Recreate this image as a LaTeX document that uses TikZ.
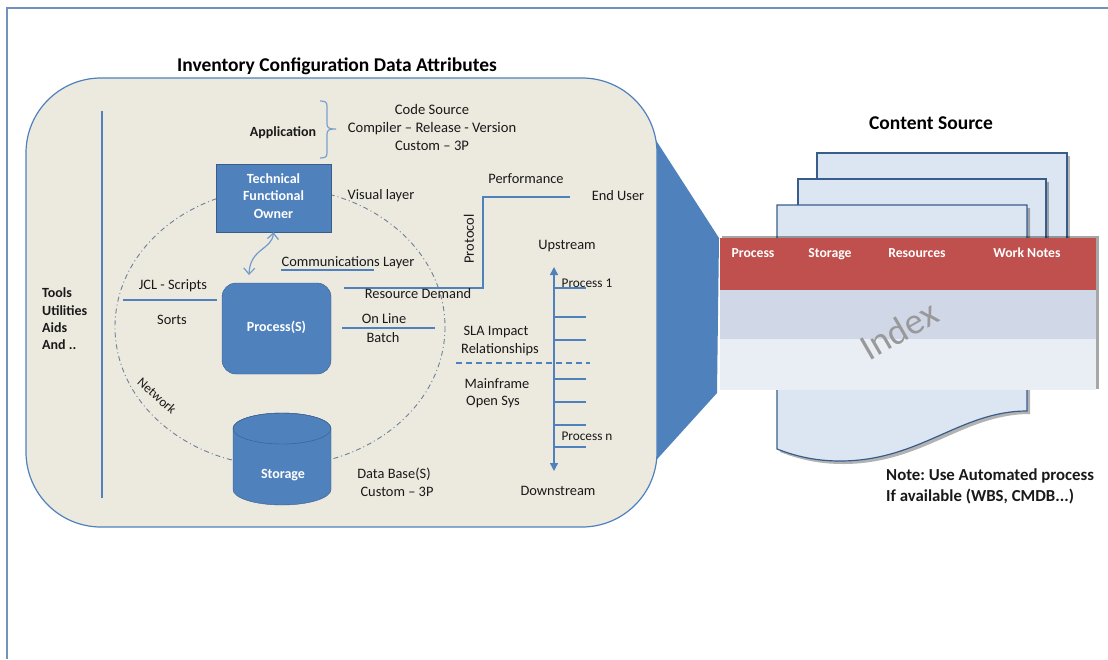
\documentclass[tikz,border=0pt]{standalone}
\usepackage{fontspec}
\setmainfont{Carlito}
\usetikzlibrary{shadows,arrows.meta}
\definecolor{panelfill}{HTML}{ECE9DF}
\definecolor{blueline}{HTML}{4F81BD}
\definecolor{darkline}{HTML}{385D8A}
\definecolor{pagefill}{HTML}{DCE6F2}
\definecolor{redhead}{HTML}{C0504D}
\definecolor{rowone}{HTML}{D0D8E8}
\definecolor{rowtwo}{HTML}{E9EDF4}
\definecolor{framecol}{HTML}{6F93BD}
\definecolor{ringcol}{HTML}{6E8098}
\tikzset{
    txt/.style={font=\fontsize{14.4}{17}\selectfont, text=black!90, inner sep=0pt, yshift=-1pt},
    boldtxt/.style={txt, font=\fontsize{14}{17}\selectfont\bfseries},
    head/.style={inner sep=0pt, text=black, font=\fontsize{19.5}{22}\selectfont\bfseries, yshift=-1pt},
    bluebox/.style={draw=darkline, fill=blueline, text=white, align=center, inner sep=0pt,
        font=\fontsize{14}{17.5}\selectfont\bfseries},
    headcell/.style={inner sep=0pt, anchor=base, text=white, font=\fontsize{13.7}{15}\selectfont\bfseries},
    smalltxt/.style={txt, font=\fontsize{13.3}{15}\selectfont},
    tick/.style={draw=blueline, line width=1.1pt},
    blueln/.style={draw=blueline, line width=1.3pt},
    page/.style={draw=darkline, fill=pagefill, line width=1.2pt,
        drop shadow={shadow xshift=3pt, shadow yshift=-3pt, opacity=0.3, fill=black}},
}
\begin{document}
\frenchspacing
\begin{tikzpicture}[x=1pt, y=-1pt]
    \useasboundingbox (0, 0) rectangle (1108, 659);
    \draw[framecol, line width=1.5pt] (7, 659) -- (7, 8) -- (1108, 8);

    % callout wedge behind the panel
    \fill[blueline] (650, 131) -- (719, 238) -- (717, 393) -- (650, 467) -- cycle;
    \draw[fill=panelfill, draw=blueline, line width=1.2pt, rounded corners=75pt]
        (26, 78) rectangle (657, 527);
    \node[head, yshift=-1pt] (title) at (337, 64) {Inventory Configuration Data Attributes};

    % dashed network ring
    \draw[ringcol, line width=0.9pt, dash pattern=on 5pt off 3pt on 1pt off 3pt]
        (280, 327) ellipse [x radius=165, y radius=139];
    \node[smalltxt, rotate=-42] (network) at (157, 395) {Network};

    \coordinate (toolstop) at (102, 111);
    \coordinate (toolsbot) at (102, 498);
    \draw[blueln] (toolstop) -- (toolsbot);
    \node[boldtxt, align=left, anchor=west, font=\fontsize{14}{17.4}\selectfont\bfseries] (tools) at (42, 318)
        {Tools\\Utilities\\Aids\\And ..};

    % application
    \node[boldtxt] (application) at (283, 132) {Application};
    \draw[blueline!75, line width=1.2pt] (320, 101) .. controls (325, 101) and (327, 102) .. (327, 106)
        -- (327, 124) .. controls (327, 128) and (329, 129) .. (336, 129)
        .. controls (329, 129) and (327, 130) .. (327, 134) -- (327, 153)
        .. controls (327, 157) and (325, 158) .. (320, 158);
    \node[txt, align=center, font=\fontsize{14.6}{17.6}\selectfont] (source) at (432, 126.5)
        {Code Source\\Compiler -- Release - Version\\Custom -- 3P};

    % blue shapes
    \node[bluebox, text depth=4pt, minimum width=115pt, minimum height=68pt] (owner) at (273.5, 198)
        {Technical\\Functional\\Owner};
    \node[bluebox, rounded corners=14pt, minimum width=109pt, minimum height=91pt] (process) at (276.5, 328.5)
        {\raisebox{5pt}{Process(S)}};
    \draw[draw=darkline, fill=blueline] (233, 428.5) -- (233, 489.5)
        arc [start angle=180, end angle=0, x radius=49, y radius=15.5] -- (331, 428.5)
        arc [start angle=0, end angle=-180, x radius=49, y radius=15.5] -- cycle;
    \draw[draw=darkline] (282, 428.5) ellipse [x radius=49, y radius=15.5];
    \node[inner sep=0pt, text=white, font=\fontsize{14}{17}\selectfont\bfseries] (storage) at (283, 475) {Storage};

    \draw[blueline!80, line width=1.2pt, {Straight Barb[length=6pt,width=11pt]}-{Straight Barb[length=6pt,width=11pt]}]
        (owner.south) .. controls (272, 250) and (250, 248) .. (249, 275);

    % labels and rules round the process
    \node[txt] (visual) at (381, 195) {Visual layer};
    \node[txt] (comms) at (348, 262) {Communications Layer};
    \draw[blueln] (281, 270) -- (374, 270);
    \node[txt] (jcl) at (173, 285) {JCL - Scripts};
    \draw[blueln] (123, 300) -- (217, 300);
    \node[txt] (sorts) at (172, 319) {Sorts};
    \node[txt] (online) at (384, 318) {On Line};
    \draw[blueln] (342, 328) -- (435, 328);
    \node[txt] (batch) at (383, 337) {Batch};
    \node[txt] (dbase) at (394, 473) {Data Base(S)};
    \node[txt] (custom) at (397, 491) {Custom -- 3P};

    % protocol line
    \coordinate (linestart) at (344, 288);
    \coordinate (lineend) at (570, 197);
    \draw[blueln] (linestart) -- (483, 288) -- (483, 197) -- (lineend);
    \node[txt] (demand) at (418, 293) {Resource Demand};
    \node[txt, rotate=90, yshift=1pt] (protocol) at (470, 238) {Protocol};
    \node[txt] (perf) at (526, 178) {Performance};
    \node[txt] (enduser) at (618, 195) {End User};

    % up and down stream
    \node[txt] (upstream) at (567, 245) {Upstream};
    \node[txt] (downstream) at (558, 490) {Downstream};
    \coordinate (streamtop) at (554, 267);
    \coordinate (streambot) at (554, 471);
    \draw[blueln, {Triangle[length=8pt,width=8pt]}-{Triangle[length=8pt,width=8pt]}]
        (streamtop) -- (streambot);
    \foreach \y in {288, 317, 340, 379, 402, 425, 447} {
        \draw[tick] (554, \y) -- (586, \y);
    }
    \draw[tick, dash pattern=on 6pt off 4pt] (456, 363) -- (590, 363);
    \node[smalltxt] (procone) at (587, 282) {Process 1};
    \node[smalltxt] (procn) at (587, 435) {Process n};
    \node[txt] (sla) at (496, 331) {SLA Impact};
    \node[txt] (rel) at (500, 349) {Relationships};
    \node[txt] (mainframe) at (497, 383) {Mainframe};
    \node[txt] (opensys) at (493, 401) {Open Sys};

    % content source pages
    \node[head] (content) at (931, 122) {Content Source};
    \draw[page] (817, 153) rectangle (1067, 300);
    \draw[page] (798, 179) rectangle (1046, 300);
    \draw[page] (777, 205) -- (1027, 205) -- (1027, 411)
        .. controls (960, 411) and (920, 461) .. (840, 461)
        .. controls (815, 461) and (795, 456) .. (777, 449) -- cycle;

    % index table
    \fill[black, opacity=0.35] (722, 235.5) rectangle (1099, 389);
    \fill[redhead] (720, 238) rectangle (1096, 290);
    \fill[rowone] (720, 290) rectangle (1096, 339);
    \fill[rowtwo] (720, 339) rectangle (1096, 390);
    \node[headcell] (cellprocess) at (753, 257) {Process};
    \node[headcell] (cellstorage) at (830, 257) {Storage};
    \node[headcell] (cellresources) at (917, 257) {Resources};
    \node[headcell] (cellnotes) at (1027, 257) {Work Notes};
    \node[inner sep=0pt, rotate=30, text=black!40, font=\fontsize{37}{39}\selectfont] (index) at (899, 330) {Index};

    \node[boldtxt, align=left, anchor=north west, font=\fontsize{16.8}{21}\selectfont\bfseries] (note) at (886, 468)
        {Note: Use Automated process\\If available (WBS, CMDB...)};
\end{tikzpicture}
\end{document}
